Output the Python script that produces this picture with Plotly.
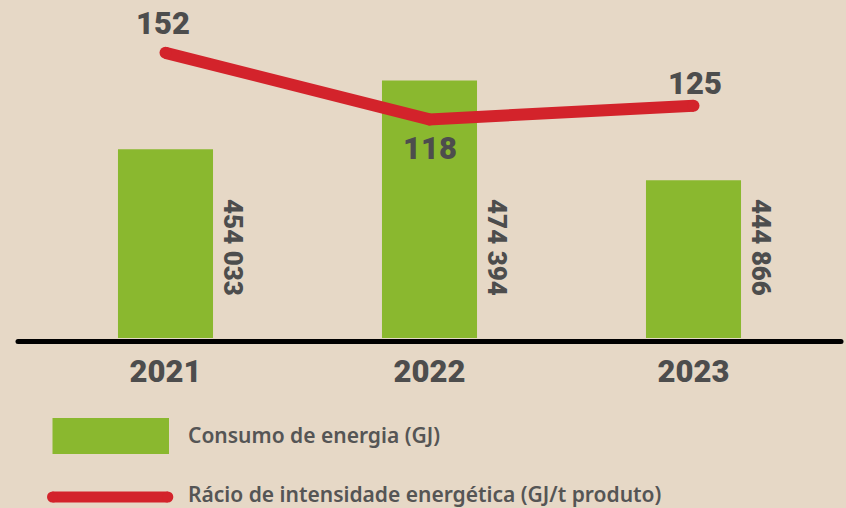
import plotly.graph_objects as go

years = ["2021", "2022", "2023"]
consumo = [454033, 474394, 444866]
consumo_labels = ["454 033", "474 394", "444 866"]
racio = [152, 118, 125]
racio_yshift = [29, -29, 22]
racio_xshift = [-3, 0, 1]

BG = "#E6D8C6"
GREEN = "#8AB82F"
RED = "#D3232B"
TXT = "#4D4D4D"

W, H = 846, 508
PLOT_BOTTOM = 338  # pixel of plot-area bottom

fig = go.Figure()
fig.add_trace(go.Bar(x=[0, 1, 2], y=consumo, width=0.36, marker=dict(color=GREEN, line=dict(width=0)),
                     name="Consumo de energia (GJ)", showlegend=False, hoverinfo="skip"))
fig.add_trace(go.Scatter(x=[0, 1, 2], y=racio, yaxis="y2", mode="lines+markers",
                         line=dict(color=RED, width=12), marker=dict(color=RED, size=12),
                         name="Rácio de intensidade energética (GJ/t produto)", showlegend=False, hoverinfo="skip"))

annotations = []
for i, (v, ys, xs) in enumerate(zip(racio, racio_yshift, racio_xshift)):
    annotations.append(dict(x=i, y=v, xref="x", yref="y2", text=str(v), showarrow=False,
                            yshift=ys, xshift=xs, font=dict(family="Roboto", size=31, color=TXT, weight=900)))
for i, lab in enumerate(consumo_labels):
    annotations.append(dict(x=i, y=(PLOT_BOTTOM - 298) / PLOT_BOTTOM, xref="x", yref="paper", text=lab,
                            showarrow=False, textangle=90, xshift=68,
                            font=dict(family="Roboto", size=26, color=TXT, weight=900)))


def py(pix):
    return (PLOT_BOTTOM - pix) / PLOT_BOTTOM


def px(pix):
    return pix / W


annotations.append(dict(x=px(186), y=py(435), xref="paper", yref="paper", xanchor="left", yanchor="middle",
                        text="Consumo de energia (GJ)", showarrow=False,
                        font=dict(family="Noto Sans", size=21, color="#555555", weight=600)))
annotations.append(dict(x=px(186), y=py(494), xref="paper", yref="paper", xanchor="left", yanchor="middle",
                        text="Rácio de intensidade energética (GJ/t produto)", showarrow=False,
                        font=dict(family="Noto Sans", size=21, color="#555555", weight=600)))

shapes = [
    dict(type="line", xref="paper", yref="paper", x0=px(18), x1=px(841), y0=py(341.5), y1=py(341.5),
         line=dict(color="black", width=5)),
    dict(type="rect", xref="paper", yref="paper", x0=px(52.5), x1=px(169), y0=py(418), y1=py(454),
         fillcolor=GREEN, line=dict(width=0)),
    dict(type="line", xref="paper", yref="paper", x0=px(52.5), x1=px(167.8), y0=py(497), y1=py(497),
         line=dict(color=RED, width=11)),
]
for cx, r, cy in ((52.5, 5.5, 497), (167.8, 5.5, 497), (18, 2.5, 341.5), (841, 2.5, 341.5)):
    col = RED if cy == 497 else "black"
    shapes.append(dict(type="circle", xref="paper", yref="paper", xsizemode="pixel", ysizemode="pixel",
                       xanchor=px(cx), yanchor=py(cy), x0=-r, x1=r, y0=-r, y1=r,
                       fillcolor=col, line=dict(width=0)))

fig.update_layout(
    width=W, height=H,
    margin=dict(l=0, r=0, t=0, b=H - PLOT_BOTTOM, pad=0),
    paper_bgcolor=BG, plot_bgcolor=BG,
    xaxis=dict(range=[-165.5 / 264, (W - 165.5) / 264], tickmode="array", tickvals=[0, 1, 2],
               ticktext=years, showgrid=False, zeroline=False, showline=False,
               ticks="", tickfont=dict(family="Roboto", size=31, color=TXT, weight=900), ticklabelstandoff=12),
    yaxis=dict(range=[398190, 498220], visible=False, showgrid=False),
    yaxis2=dict(range=[6.31, 179.0], overlaying="y", visible=False, showgrid=False),
    annotations=annotations, shapes=shapes, showlegend=False,
)

fig.write_html("out.html", config={"displayModeBar": False},
               post_script="document.body.style.margin='0';document.body.style.padding='0';")
